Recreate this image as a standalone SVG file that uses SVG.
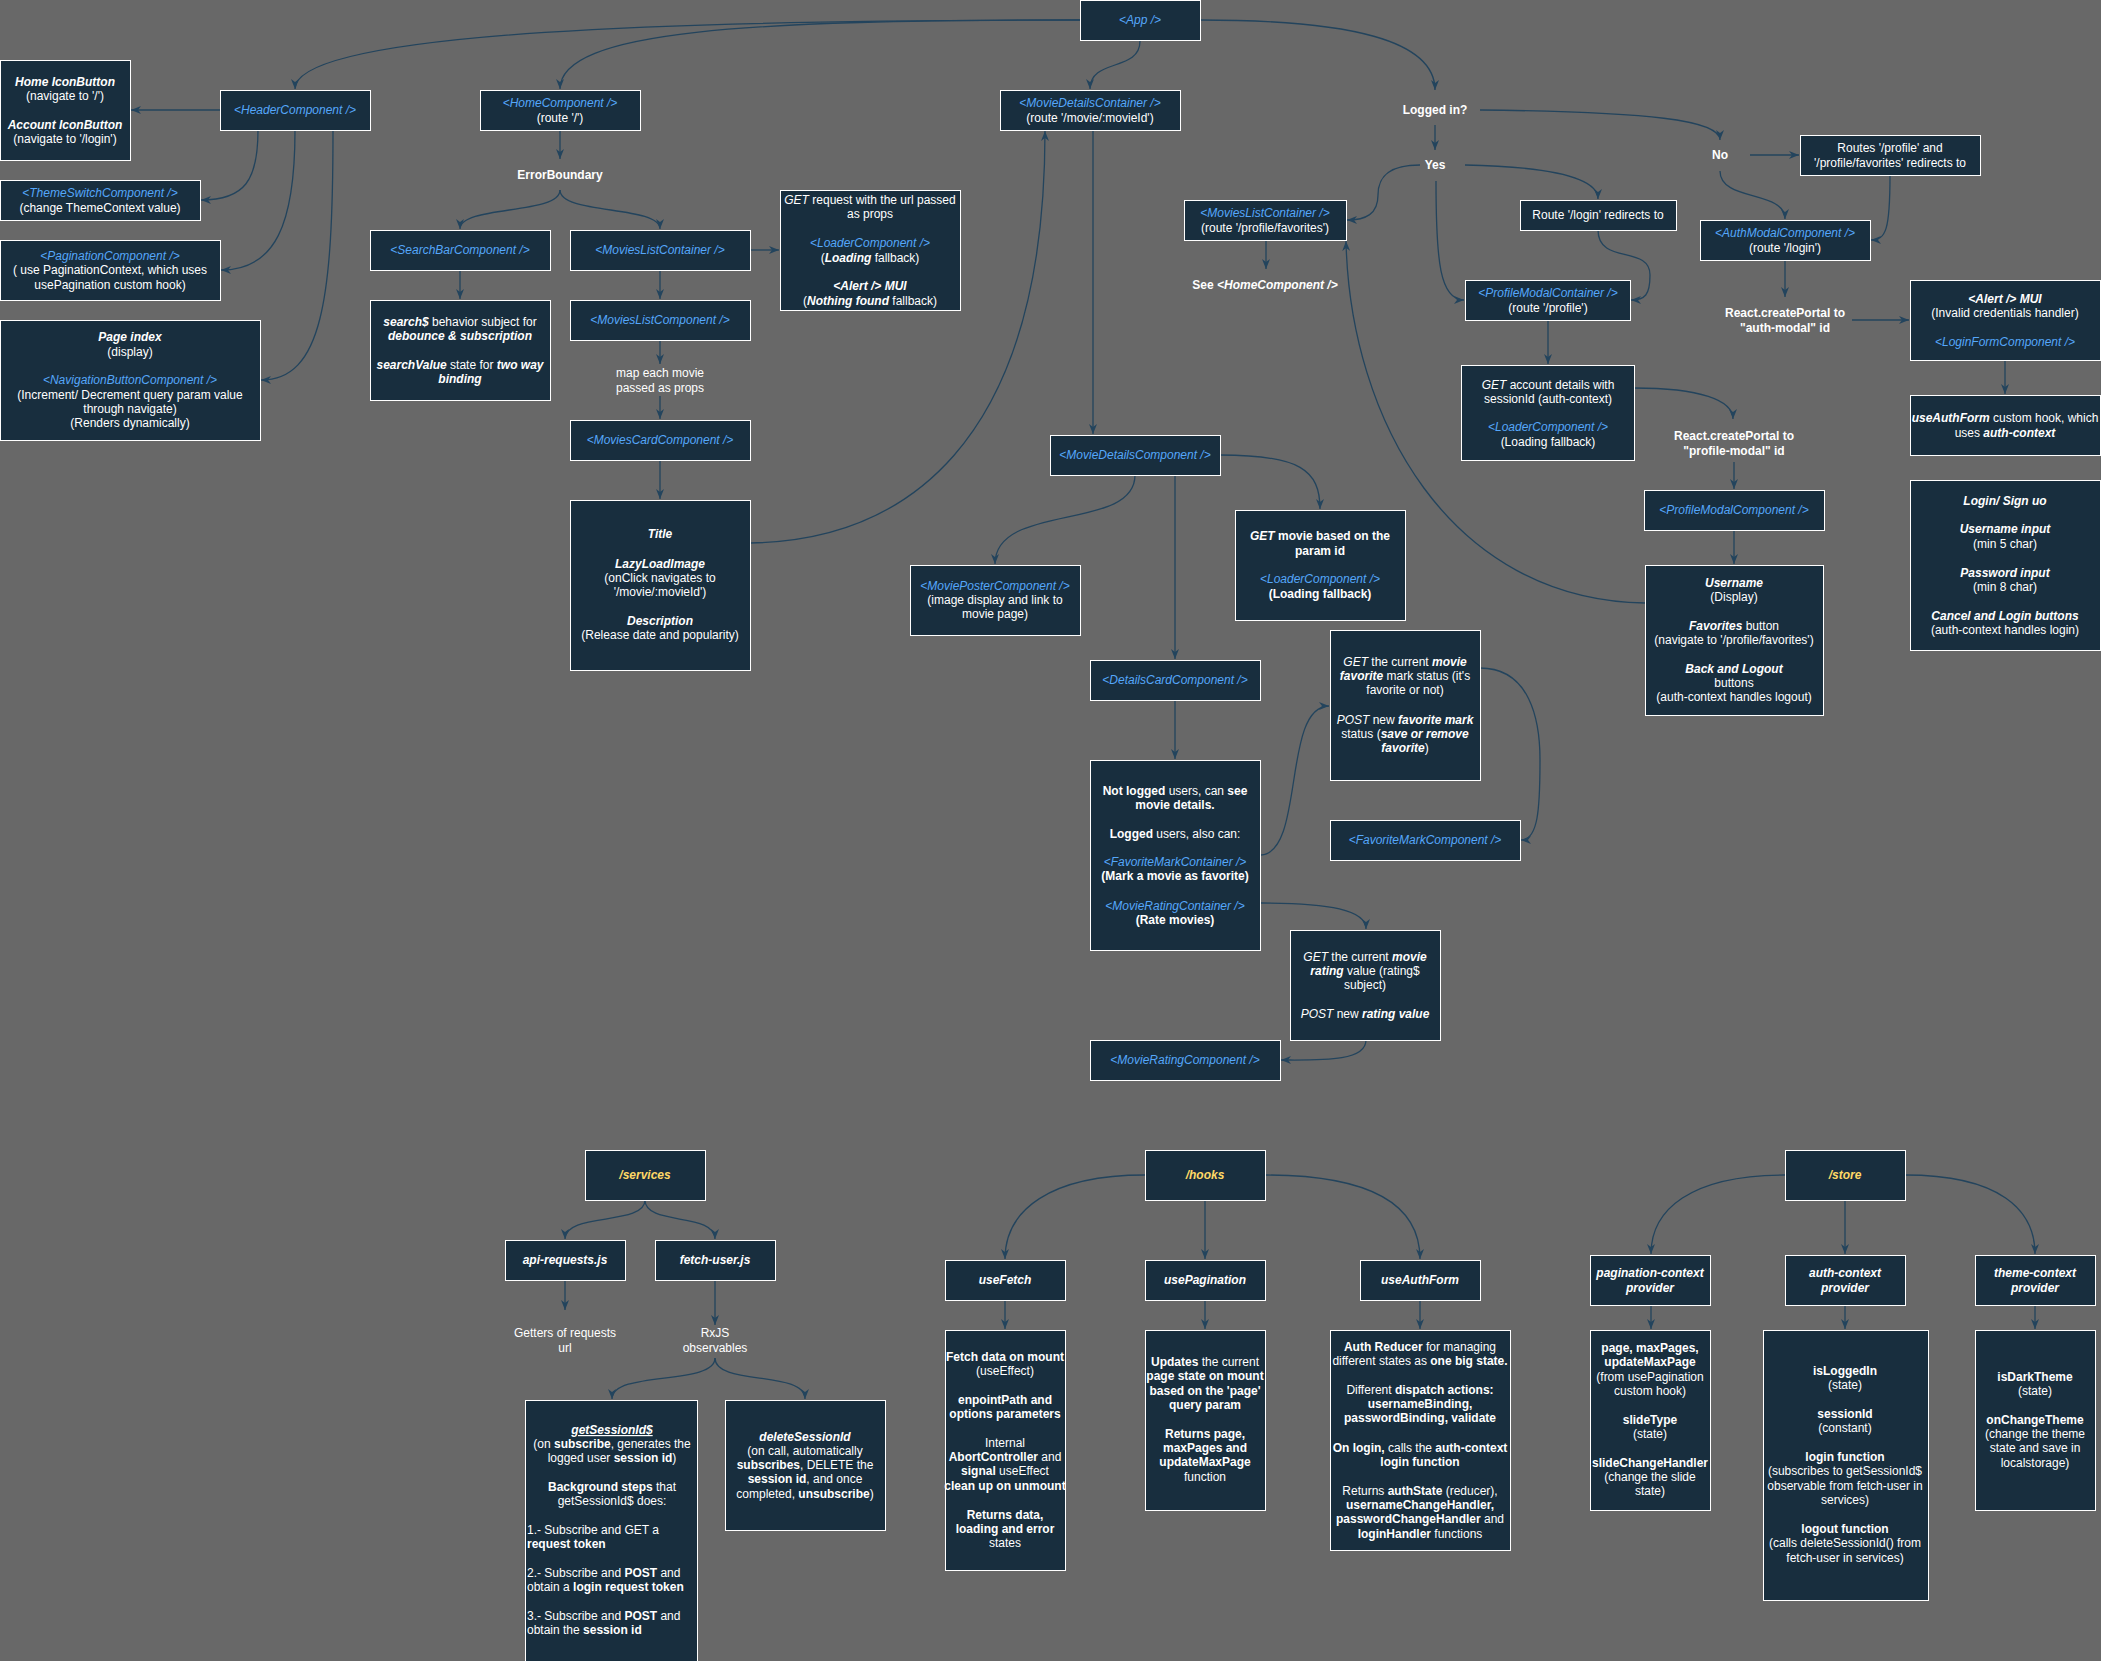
<svg xmlns="http://www.w3.org/2000/svg" width="2101" height="1661" viewBox="0 0 2101 1661">
<defs>
<style>
.n{fill:#182E3E;stroke:#FFFFFF;stroke-width:1}
.t{font-family:"Liberation Sans",Arial,Helvetica,sans-serif;font-size:12px;fill:#FFFFFF;text-anchor:middle}
.l{text-anchor:start}
.b{font-weight:bold}
.i{font-style:italic}
.c{fill:#55A7FA;font-style:italic}
.y{fill:#FFD966;font-style:italic;font-weight:bold}
.u{text-decoration:underline}
.e{fill:none;stroke:#23445D;stroke-width:1.3;marker-end:url(#a)}
</style>
<marker id="a" viewBox="0 0 10 8" refX="10" refY="4" markerWidth="10" markerHeight="8" markerUnits="userSpaceOnUse" orient="auto">
<path d="M0,0 L10,4 L0,8 L3,4 z" fill="#23445D"/>
</marker>
</defs>
<rect x="0" y="0" width="2101" height="1661" fill="#686868"/>

<g id="connectors">
<path class="e" d="M1080,20 C700,20 295,30 295,89"/>
<path class="e" d="M1080,20 C750,20 560,30 560,89"/>
<path class="e" d="M1140,41 C1140,72 1090,58 1090,89"/>
<path class="e" d="M1200,20 C1350,20 1435,40 1435,90"/>
<path class="e" d="M220,110 L131,110"/>
<path class="e" d="M258,130 C258,180 245,200 201,200"/>
<path class="e" d="M295,130 C295,225 275,270 221,270"/>
<path class="e" d="M333,130 C333,300 322,380 261,380"/>
<path class="e" d="M560,130 L560,159"/>
<path class="e" d="M560,190 C560,215 460,205 460,229"/>
<path class="e" d="M560,190 C560,215 660,205 660,229"/>
<path class="e" d="M460,270 L460,299"/>
<path class="e" d="M660,270 L660,299"/>
<path class="e" d="M750,250 L779,250"/>
<path class="e" d="M660,340 L660,364"/>
<path class="e" d="M660,396 L660,419"/>
<path class="e" d="M660,460 L660,499"/>
<path class="e" d="M751,543 C900,540 1045,450 1045,131"/>
<path class="e" d="M1093,130 L1093,434"/>
<path class="e" d="M1135,475 C1135,532 995,502 995,564"/>
<path class="e" d="M1220,455 C1300,455 1320,470 1320,509"/>
<path class="e" d="M1175,475 L1175,659"/>
<path class="e" d="M1175,700 L1175,759"/>
<path class="e" d="M1261,855 C1305,852 1282,706 1329,706"/>
<path class="e" d="M1480,668 C1530,668 1540,720 1540,760 C1540,810 1538,840 1521,840"/>
<path class="e" d="M1261,903 C1330,903 1366,910 1366,929"/>
<path class="e" d="M1366,1040 C1366,1062 1320,1060 1281,1060"/>
<path class="e" d="M1266,240 L1266,269"/>
<path class="e" d="M1435,125 L1435,150"/>
<path class="e" d="M1480,110 C1650,112 1720,120 1720,140"/>
<path class="e" d="M1750,155 L1799,155"/>
<path class="e" d="M1720,171 C1720,202 1785,190 1785,219"/>
<path class="e" d="M1890,175 C1890,230 1886,240 1871,240"/>
<path class="e" d="M1465,165 C1560,167 1598,180 1598,199"/>
<path class="e" d="M1420,165 C1385,165 1378,180 1378,195 C1378,214 1366,220 1347,220"/>
<path class="e" d="M1436,181 C1436,262 1440,300 1464,300"/>
<path class="e" d="M1598,230 C1598,265 1650,245 1650,275 C1650,295 1645,300 1631,300"/>
<path class="e" d="M1548,320 L1548,364"/>
<path class="e" d="M1634,388 C1700,388 1733,400 1733,419"/>
<path class="e" d="M1734,462 L1734,489"/>
<path class="e" d="M1734,530 L1734,564"/>
<path class="e" d="M1645,603 C1450,600 1350,420 1346,241"/>
<path class="e" d="M1785,260 L1785,297"/>
<path class="e" d="M1852,320 L1909,320"/>
<path class="e" d="M2005,360 L2005,394"/>
<path class="e" d="M645,1200 C645,1226 565,1212 565,1239"/>
<path class="e" d="M645,1200 C645,1226 715,1212 715,1239"/>
<path class="e" d="M565,1280 L565,1310"/>
<path class="e" d="M715,1280 L715,1325"/>
<path class="e" d="M715,1358 C715,1386 612,1370 612,1399"/>
<path class="e" d="M715,1358 C715,1386 805,1370 805,1399"/>
<path class="e" d="M1145,1175 C1050,1175 1005,1210 1005,1259"/>
<path class="e" d="M1205,1200 L1205,1259"/>
<path class="e" d="M1265,1175 C1380,1175 1420,1210 1420,1259"/>
<path class="e" d="M1005,1300 L1005,1329"/>
<path class="e" d="M1205,1300 L1205,1329"/>
<path class="e" d="M1420,1300 L1420,1329"/>
<path class="e" d="M1785,1175 C1690,1175 1651,1210 1651,1254"/>
<path class="e" d="M1845,1200 L1845,1254"/>
<path class="e" d="M1905,1175 C2000,1175 2035,1210 2035,1254"/>
<path class="e" d="M1651,1305 L1651,1329"/>
<path class="e" d="M1845,1305 L1845,1329"/>
<path class="e" d="M2035,1305 L2035,1329"/>
</g>

<g id="app"><rect class="n" x="1080.5" y="0.5" width="120" height="40"/><text class="t c" x="1140" y="24">&lt;App /&gt;</text></g>

<g id="home-icon"><rect class="n" x="0.5" y="60.5" width="130" height="100"/>
<text class="t b i" x="65" y="86">Home IconButton</text>
<text class="t" x="65" y="100">(navigate to '/')</text>
<text class="t b i" x="65" y="129">Account IconButton</text>
<text class="t" x="65" y="143">(navigate to '/login')</text></g>

<g id="header"><rect class="n" x="220.5" y="90.5" width="150" height="40"/><text class="t c" x="295" y="114">&lt;HeaderComponent /&gt;</text></g>

<g id="home"><rect class="n" x="480.5" y="90.5" width="160" height="40"/>
<text class="t c" x="560" y="107">&lt;HomeComponent /&gt;</text>
<text class="t" x="560" y="122">(route '/')</text></g>

<g id="theme-switch"><rect class="n" x="0.5" y="180.5" width="200" height="40"/>
<text class="t c" x="100" y="197">&lt;ThemeSwitchComponent /&gt;</text>
<text class="t" x="100" y="212">(change ThemeContext value)</text></g>

<g id="pagination"><rect class="n" x="0.5" y="240.5" width="220" height="60"/>
<text class="t c" x="110" y="260">&lt;PaginationComponent /&gt;</text>
<text class="t" x="110" y="274">( use PaginationContext, which uses</text>
<text class="t" x="110" y="289">usePagination custom hook)</text></g>

<g id="page-index"><rect class="n" x="0.5" y="320.5" width="260" height="120"/>
<text class="t b i" x="130" y="341">Page index</text>
<text class="t" x="130" y="356">(display)</text>
<text class="t c" x="130" y="384">&lt;NavigationButtonComponent /&gt;</text>
<text class="t" x="130" y="399">(Increment/ Decrement query param value</text>
<text class="t" x="130" y="413">through navigate)</text>
<text class="t" x="130" y="427">(Renders dynamically)</text></g>

<g id="error-boundary"><text class="t b" x="560" y="179">ErrorBoundary</text></g>

<g id="searchbar"><rect class="n" x="370.5" y="230.5" width="180" height="40"/><text class="t c" x="460" y="254">&lt;SearchBarComponent /&gt;</text></g>

<g id="movies-list-container"><rect class="n" x="570.5" y="230.5" width="180" height="40"/><text class="t c" x="660" y="254">&lt;MoviesListContainer /&gt;</text></g>

<g id="search-subject"><rect class="n" x="370.5" y="300.5" width="180" height="100"/>
<text class="t" x="460" y="326"><tspan class="b i">search$</tspan> behavior subject for</text>
<text class="t b i" x="460" y="340">debounce &amp; subscription</text>
<text class="t" x="460" y="369"><tspan class="b i">searchValue</tspan> state for <tspan class="b i">two way</tspan></text>
<text class="t b i" x="460" y="383">binding</text></g>

<g id="movies-list-component"><rect class="n" x="570.5" y="300.5" width="180" height="40"/><text class="t c" x="660" y="324">&lt;MoviesListComponent /&gt;</text></g>

<g id="map-each"><text class="t" x="660" y="377">map each movie</text><text class="t" x="660" y="392">passed as props</text></g>

<g id="movies-card"><rect class="n" x="570.5" y="420.5" width="180" height="40"/><text class="t c" x="660" y="444">&lt;MoviesCardComponent /&gt;</text></g>

<g id="card-content"><rect class="n" x="570.5" y="500.5" width="180" height="170"/>
<text class="t b i" x="660" y="538">Title</text>
<text class="t b i" x="660" y="568">LazyLoadImage</text>
<text class="t" x="660" y="582">(onClick navigates to</text>
<text class="t" x="660" y="596">'/movie/:movieId')</text>
<text class="t b i" x="660" y="625">Description</text>
<text class="t" x="660" y="639">(Release date and popularity)</text></g>

<g id="get-request"><rect class="n" x="780.5" y="190.5" width="180" height="120"/>
<text class="t" x="870" y="204"><tspan class="i">GET</tspan> request with the url passed</text>
<text class="t" x="870" y="218">as props</text>
<text class="t c" x="870" y="247">&lt;LoaderComponent /&gt;</text>
<text class="t" x="870" y="262">(<tspan class="b i">Loading</tspan> fallback)</text>
<text class="t b i" x="870" y="290">&lt;Alert /&gt; MUI</text>
<text class="t" x="870" y="305">(<tspan class="b i">Nothing found</tspan> fallback)</text></g>

<g id="movie-details-container"><rect class="n" x="1000.5" y="90.5" width="180" height="40"/>
<text class="t c" x="1090" y="107">&lt;MovieDetailsContainer /&gt;</text>
<text class="t" x="1090" y="122">(route '/movie/:movieId')</text></g>

<g id="favorites-list-container"><rect class="n" x="1184.5" y="200.5" width="162" height="40"/>
<text class="t c" x="1265" y="217">&lt;MoviesListContainer /&gt;</text>
<text class="t" x="1265" y="232">(route '/profile/favorites')</text></g>

<g id="see-home"><text class="t b" x="1265" y="289">See <tspan class="i">&lt;HomeComponent /&gt;</tspan></text></g>

<g id="logged-in"><text class="t b" x="1435" y="114">Logged in?</text></g>
<g id="yes"><text class="t b" x="1435" y="169">Yes</text></g>
<g id="no"><text class="t b" x="1720" y="159">No</text></g>

<g id="routes-redirect"><rect class="n" x="1800.5" y="135.5" width="180" height="40"/>
<text class="t" x="1890" y="152">Routes '/profile' and</text>
<text class="t" x="1890" y="167">'/profile/favorites' redirects to</text></g>

<g id="login-redirect"><rect class="n" x="1520.5" y="200.5" width="156" height="30"/>
<text class="t" x="1598" y="219">Route '/login' redirects to</text></g>

<g id="auth-modal"><rect class="n" x="1700.5" y="220.5" width="170" height="40"/>
<text class="t c" x="1785" y="237">&lt;AuthModalComponent /&gt;</text>
<text class="t" x="1785" y="252">(route '/login')</text></g>

<g id="profile-modal-container"><rect class="n" x="1465.5" y="280.5" width="165" height="40"/>
<text class="t c" x="1548" y="297">&lt;ProfileModalContainer /&gt;</text>
<text class="t" x="1548" y="312">(route '/profile')</text></g>

<g id="get-account"><rect class="n" x="1461.5" y="365.5" width="173" height="95"/>
<text class="t" x="1548" y="389"><tspan class="i">GET</tspan> account details with</text>
<text class="t" x="1548" y="403">sessionId (auth-context)</text>
<text class="t c" x="1548" y="431">&lt;LoaderComponent /&gt;</text>
<text class="t" x="1548" y="446">(Loading fallback)</text></g>

<g id="portal-auth"><text class="t b" x="1785" y="317">React.createPortal to</text><text class="t b" x="1785" y="332">"auth-modal" id</text></g>

<g id="portal-profile"><text class="t b" x="1734" y="440">React.createPortal to</text><text class="t b" x="1734" y="455">"profile-modal" id</text></g>

<g id="alert-login"><rect class="n" x="1910.5" y="280.5" width="190" height="80"/>
<text class="t b i" x="2005" y="303">&lt;Alert /&gt; MUI</text>
<text class="t" x="2005" y="317">(Invalid credentials handler)</text>
<text class="t c" x="2005" y="346">&lt;LoginFormComponent /&gt;</text></g>

<g id="use-auth-form-hook"><rect class="n" x="1910.5" y="395.5" width="190" height="60"/>
<text class="t" x="2005" y="422"><tspan class="b i">useAuthForm</tspan> custom hook, which</text>
<text class="t" x="2005" y="437">uses <tspan class="b i">auth-context</tspan></text></g>

<g id="login-form"><rect class="n" x="1910.5" y="480.5" width="190" height="170"/>
<text class="t b i" x="2005" y="505">Login/ Sign uo</text>
<text class="t b i" x="2005" y="533">Username input</text>
<text class="t" x="2005" y="548">(min 5 char)</text>
<text class="t b i" x="2005" y="577">Password input</text>
<text class="t" x="2005" y="591">(min 8 char)</text>
<text class="t b i" x="2005" y="620">Cancel and Login buttons</text>
<text class="t" x="2005" y="634">(auth-context handles login)</text></g>

<g id="profile-modal"><rect class="n" x="1644.5" y="490.5" width="180" height="40"/>
<text class="t c" x="1734" y="514">&lt;ProfileModalComponent /&gt;</text></g>

<g id="profile-content"><rect class="n" x="1645.5" y="565.5" width="178" height="150"/>
<text class="t b i" x="1734" y="587">Username</text>
<text class="t" x="1734" y="601">(Display)</text>
<text class="t" x="1734" y="630"><tspan class="b i">Favorites</tspan> button</text>
<text class="t" x="1734" y="644">(navigate to '/profile/favorites')</text>
<text class="t b i" x="1734" y="673">Back and Logout</text>
<text class="t" x="1734" y="687">buttons</text>
<text class="t" x="1734" y="701">(auth-context handles logout)</text></g>

<g id="movie-details"><rect class="n" x="1050.5" y="435.5" width="170" height="40"/>
<text class="t c" x="1135" y="459">&lt;MovieDetailsComponent /&gt;</text></g>

<g id="movie-poster"><rect class="n" x="910.5" y="565.5" width="170" height="70"/>
<text class="t c" x="995" y="590">&lt;MoviePosterComponent /&gt;</text>
<text class="t" x="995" y="604">(image display and link to</text>
<text class="t" x="995" y="618">movie page)</text></g>

<g id="get-movie"><rect class="n" x="1235.5" y="510.5" width="170" height="110"/>
<text class="t b" x="1320" y="540"><tspan class="i">GET</tspan> movie based on the</text>
<text class="t b" x="1320" y="555">param id</text>
<text class="t c" x="1320" y="583">&lt;LoaderComponent /&gt;</text>
<text class="t b" x="1320" y="598">(Loading fallback)</text></g>

<g id="details-card"><rect class="n" x="1090.5" y="660.5" width="170" height="40"/>
<text class="t c" x="1175" y="684">&lt;DetailsCardComponent /&gt;</text></g>

<g id="details-content"><rect class="n" x="1090.5" y="760.5" width="170" height="190"/>
<text class="t" x="1175" y="795"><tspan class="b">Not logged</tspan> users, can <tspan class="b">see</tspan></text>
<text class="t b" x="1175" y="809">movie details.</text>
<text class="t" x="1175" y="838"><tspan class="b">Logged</tspan> users, also can:</text>
<text class="t c" x="1175" y="866">&lt;FavoriteMarkContainer /&gt;</text>
<text class="t b" x="1175" y="880">(Mark a movie as favorite)</text>
<text class="t c" x="1175" y="910">&lt;MovieRatingContainer /&gt;</text>
<text class="t b" x="1175" y="924">(Rate movies)</text></g>

<g id="get-favorite"><rect class="n" x="1330.5" y="630.5" width="150" height="150"/>
<text class="t" x="1405" y="666"><tspan class="i">GET</tspan> the current <tspan class="b i">movie</tspan></text>
<text class="t" x="1405" y="680"><tspan class="b i">favorite</tspan> mark status (it's</text>
<text class="t" x="1405" y="694">favorite or not)</text>
<text class="t" x="1405" y="724"><tspan class="i">POST</tspan> new <tspan class="b i">favorite mark</tspan></text>
<text class="t" x="1405" y="738">status (<tspan class="b i">save or remove</tspan></text>
<text class="t" x="1405" y="752"><tspan class="b i">favorite</tspan>)</text></g>

<g id="favorite-mark"><rect class="n" x="1330.5" y="820.5" width="190" height="40"/>
<text class="t c" x="1425" y="844">&lt;FavoriteMarkComponent /&gt;</text></g>

<g id="get-rating"><rect class="n" x="1290.5" y="930.5" width="150" height="110"/>
<text class="t" x="1365" y="961"><tspan class="i">GET</tspan> the current <tspan class="b i">movie</tspan></text>
<text class="t" x="1365" y="975"><tspan class="b i">rating</tspan> value (rating$</text>
<text class="t" x="1365" y="989">subject)</text>
<text class="t" x="1365" y="1018"><tspan class="i">POST</tspan> new <tspan class="b i">rating value</tspan></text></g>

<g id="movie-rating"><rect class="n" x="1090.5" y="1040.5" width="190" height="40"/>
<text class="t c" x="1185" y="1064">&lt;MovieRatingComponent /&gt;</text></g>

<g id="services"><rect class="n" x="585.5" y="1150.5" width="120" height="50"/><text class="t y" x="645" y="1179">/services</text></g>
<g id="api-requests"><rect class="n" x="505.5" y="1240.5" width="120" height="40"/><text class="t b i" x="565" y="1264">api-requests.js</text></g>
<g id="fetch-user"><rect class="n" x="655.5" y="1240.5" width="120" height="40"/><text class="t b i" x="715" y="1264">fetch-user.js</text></g>
<g id="getters"><text class="t" x="565" y="1337">Getters of requests</text><text class="t" x="565" y="1352">url</text></g>
<g id="rxjs"><text class="t" x="715" y="1337">RxJS</text><text class="t" x="715" y="1352">observables</text></g>

<g id="get-session-id"><rect class="n" x="525.5" y="1400.5" width="172" height="262"/>
<text class="t b i u" x="612" y="1434">getSessionId$</text>
<text class="t" x="612" y="1448">(on <tspan class="b">subscribe</tspan>, generates the</text>
<text class="t" x="612" y="1462">logged user <tspan class="b">session id</tspan>)</text>
<text class="t" x="612" y="1491"><tspan class="b">Background steps</tspan> that</text>
<text class="t" x="612" y="1505">getSessionId$ does:</text>
<text class="t l" x="527" y="1534">1.- Subscribe and GET a</text>
<text class="t l b" x="527" y="1548">request token</text>
<text class="t l" x="527" y="1577">2.- Subscribe and <tspan class="b">POST</tspan> and</text>
<text class="t l" x="527" y="1591">obtain a <tspan class="b">login request token</tspan></text>
<text class="t l" x="527" y="1620">3.- Subscribe and <tspan class="b">POST</tspan> and</text>
<text class="t l" x="527" y="1634">obtain the <tspan class="b">session id</tspan></text></g>

<g id="delete-session-id"><rect class="n" x="725.5" y="1400.5" width="160" height="130"/>
<text class="t b i" x="805" y="1441">deleteSessionId</text>
<text class="t" x="805" y="1455">(on call, automatically</text>
<text class="t" x="805" y="1469"><tspan class="b">subscribes</tspan>, DELETE the</text>
<text class="t" x="805" y="1483"><tspan class="b">session id</tspan>, and once</text>
<text class="t" x="805" y="1498">completed, <tspan class="b">unsubscribe</tspan>)</text></g>

<g id="hooks"><rect class="n" x="1145.5" y="1150.5" width="120" height="50"/><text class="t y" x="1205" y="1179">/hooks</text></g>
<g id="use-fetch"><rect class="n" x="945.5" y="1260.5" width="120" height="40"/><text class="t b i" x="1005" y="1284">useFetch</text></g>
<g id="use-pagination"><rect class="n" x="1145.5" y="1260.5" width="120" height="40"/><text class="t b i" x="1205" y="1284">usePagination</text></g>
<g id="use-auth-form"><rect class="n" x="1360.5" y="1260.5" width="120" height="40"/><text class="t b i" x="1420" y="1284">useAuthForm</text></g>

<g id="use-fetch-desc"><rect class="n" x="945.5" y="1330.5" width="120" height="240"/>
<text class="t b" x="1005" y="1361">Fetch data on mount</text>
<text class="t" x="1005" y="1375">(useEffect)</text>
<text class="t b" x="1005" y="1404">enpointPath and</text>
<text class="t b" x="1005" y="1418">options parameters</text>
<text class="t" x="1005" y="1447">Internal</text>
<text class="t" x="1005" y="1461"><tspan class="b">AbortController</tspan> and</text>
<text class="t" x="1005" y="1475"><tspan class="b">signal</tspan> useEffect</text>
<text class="t b" x="1005" y="1490">clean up on unmount</text>
<text class="t b" x="1005" y="1519">Returns data,</text>
<text class="t b" x="1005" y="1533">loading and error</text>
<text class="t" x="1005" y="1547">states</text></g>

<g id="use-pagination-desc"><rect class="n" x="1145.5" y="1330.5" width="120" height="180"/>
<text class="t" x="1205" y="1366"><tspan class="b">Updates</tspan> the current</text>
<text class="t b" x="1205" y="1380">page state on mount</text>
<text class="t b" x="1205" y="1395">based on the 'page'</text>
<text class="t b" x="1205" y="1409">query param</text>
<text class="t b" x="1205" y="1438">Returns page,</text>
<text class="t b" x="1205" y="1452">maxPages and</text>
<text class="t b" x="1205" y="1466">updateMaxPage</text>
<text class="t" x="1205" y="1481">function</text></g>

<g id="use-auth-form-desc"><rect class="n" x="1330.5" y="1330.5" width="180" height="220"/>
<text class="t" x="1420" y="1351"><tspan class="b">Auth Reducer</tspan> for managing</text>
<text class="t" x="1420" y="1365">different states as <tspan class="b">one big state.</tspan></text>
<text class="t" x="1420" y="1394">Different <tspan class="b">dispatch actions:</tspan></text>
<text class="t b" x="1420" y="1408">usernameBinding,</text>
<text class="t b" x="1420" y="1422">passwordBinding, validate</text>
<text class="t" x="1420" y="1452"><tspan class="b">On login,</tspan> calls the <tspan class="b">auth-context</tspan></text>
<text class="t b" x="1420" y="1466">login function</text>
<text class="t" x="1420" y="1495">Returns <tspan class="b">authState</tspan> (reducer),</text>
<text class="t b" x="1420" y="1509">usernameChangeHandler,</text>
<text class="t" x="1420" y="1523"><tspan class="b">passwordChangeHandler</tspan> and</text>
<text class="t" x="1420" y="1538"><tspan class="b">loginHandler</tspan> functions</text></g>

<g id="store"><rect class="n" x="1785.5" y="1150.5" width="120" height="50"/><text class="t y" x="1845" y="1179">/store</text></g>
<g id="pagination-context"><rect class="n" x="1590.5" y="1255.5" width="120" height="50"/>
<text class="t b i" x="1650" y="1277">pagination-context</text><text class="t b i" x="1650" y="1292">provider</text></g>
<g id="auth-context"><rect class="n" x="1785.5" y="1255.5" width="120" height="50"/>
<text class="t b i" x="1845" y="1277">auth-context</text><text class="t b i" x="1845" y="1292">provider</text></g>
<g id="theme-context"><rect class="n" x="1975.5" y="1255.5" width="120" height="50"/>
<text class="t b i" x="2035" y="1277">theme-context</text><text class="t b i" x="2035" y="1292">provider</text></g>

<g id="pagination-context-desc"><rect class="n" x="1590.5" y="1330.5" width="120" height="180"/>
<text class="t b" x="1650" y="1352">page, maxPages,</text>
<text class="t b" x="1650" y="1366">updateMaxPage</text>
<text class="t" x="1650" y="1381">(from usePagination</text>
<text class="t" x="1650" y="1395">custom hook)</text>
<text class="t b" x="1650" y="1424">slideType</text>
<text class="t" x="1650" y="1438">(state)</text>
<text class="t b" x="1650" y="1467">slideChangeHandler</text>
<text class="t" x="1650" y="1481">(change the slide</text>
<text class="t" x="1650" y="1495">state)</text></g>

<g id="auth-context-desc"><rect class="n" x="1763.5" y="1330.5" width="165" height="270"/>
<text class="t b" x="1845" y="1375">isLoggedIn</text>
<text class="t" x="1845" y="1389">(state)</text>
<text class="t b" x="1845" y="1418">sessionId</text>
<text class="t" x="1845" y="1432">(constant)</text>
<text class="t b" x="1845" y="1461">login function</text>
<text class="t" x="1845" y="1475">(subscribes to getSessionId$</text>
<text class="t" x="1845" y="1490">observable from fetch-user in</text>
<text class="t" x="1845" y="1504">services)</text>
<text class="t b" x="1845" y="1533">logout function</text>
<text class="t" x="1845" y="1547">(calls deleteSessionId() from</text>
<text class="t" x="1845" y="1562">fetch-user in services)</text></g>

<g id="theme-context-desc"><rect class="n" x="1975.5" y="1330.5" width="120" height="180"/>
<text class="t b" x="2035" y="1381">isDarkTheme</text>
<text class="t" x="2035" y="1395">(state)</text>
<text class="t b" x="2035" y="1424">onChangeTheme</text>
<text class="t" x="2035" y="1438">(change the theme</text>
<text class="t" x="2035" y="1452">state and save in</text>
<text class="t" x="2035" y="1467">localstorage)</text></g>
</svg>
